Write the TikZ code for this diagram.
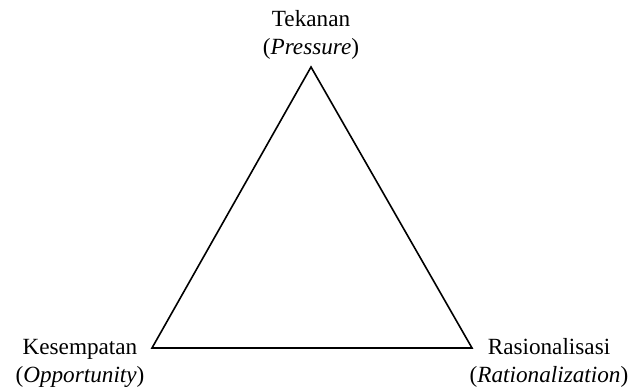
\documentclass[tikz,border=0pt]{standalone}
\usepackage{fontspec}
\setmainfont{Liberation Serif}
\usetikzlibrary{positioning}

\begin{document}
\begin{tikzpicture}[x=0.5pt,y=-0.5pt,
  lbl/.style={align=center,font=\fontsize{11.6}{14}\selectfont,inner sep=0pt}]
\useasboundingbox (0,0) rectangle (631,389);
\coordinate (p) at (311,67);
\coordinate (o) at (152,348);
\coordinate (r) at (472,348);
\draw[line width=0.8pt,line join=miter] (p)--(o)--(r)--cycle;
\node[lbl] (tek) at (311,35) {Tekanan\\(\textit{Pressure})};
\node[lbl] (kes) at (80,363) {Kesempatan\\(\textit{Opportunity})};
\node[lbl] (ras) at (549,363) {Rasionalisasi\\(\textit{Rationalization})};
\end{tikzpicture}
\end{document}
